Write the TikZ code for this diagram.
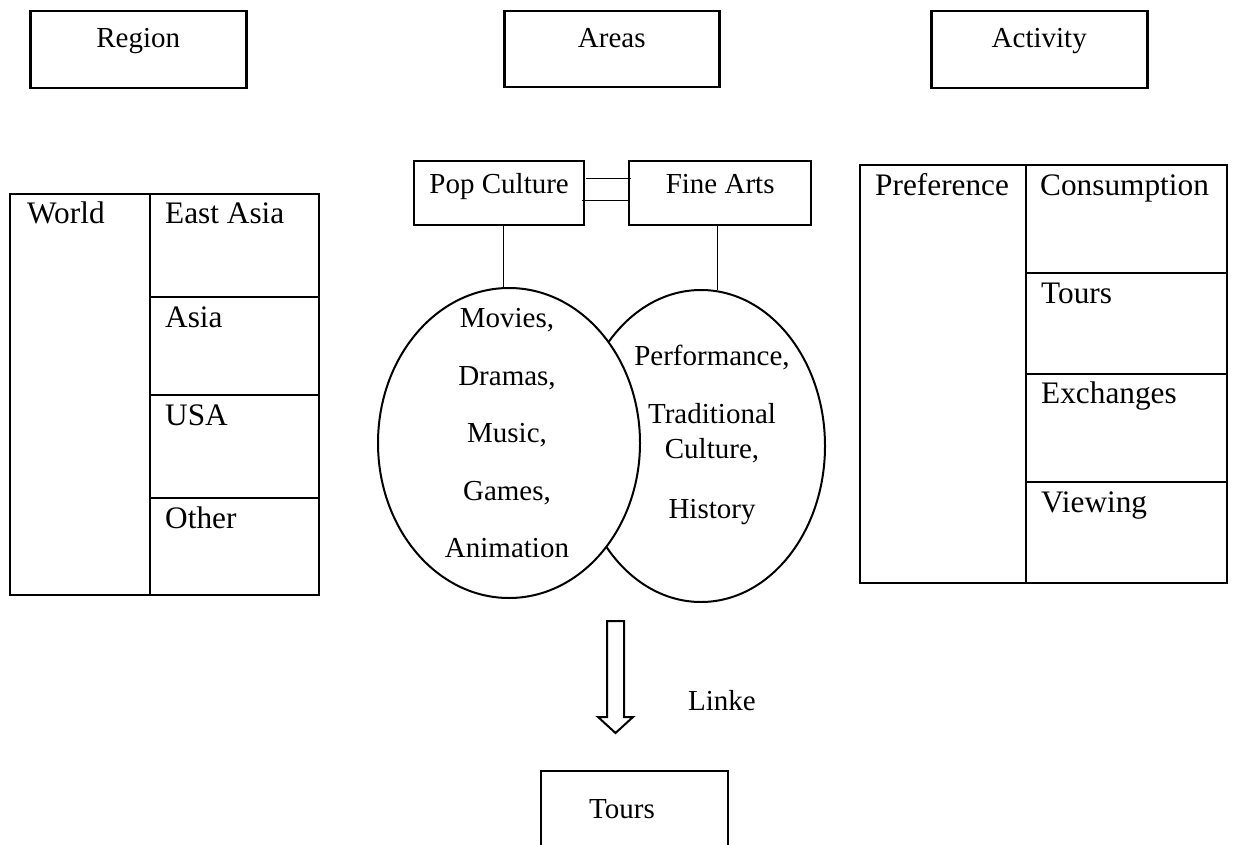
\documentclass[tikz,border=0pt]{standalone}
\usepackage{fontspec}
\setmainfont{Liberation Serif}
\usetikzlibrary{shapes.geometric,calc}
\begin{document}
\begin{tikzpicture}[x=1pt,y=-1pt,
  txt/.style={inner sep=0pt, font=\fontsize{29}{30}\selectfont},
  ttxt/.style={inner sep=0pt, anchor=base west, font=\fontsize{31.3}{32}\selectfont},
  hbox/.style={draw, line width=2.5pt, inner sep=0pt, anchor=north west, font=\fontsize{29}{30}\selectfont},
  venn/.style={draw, ellipse, line width=2pt, inner sep=0pt, fill=white},
  thinline/.style={line width=1pt},
  tbl/.style={line width=2.5pt}]
\useasboundingbox (0,0) rectangle (1233,845);

% header boxes
\node[hbox, minimum width=216, text height=36, text depth=41] (region) at (29,10) {Region};
\node[hbox, minimum width=215, text height=36, text depth=40] (areas) at (503,10) {Areas};
\node[hbox, minimum width=216, text height=36, text depth=41] (activity) at (930,10) {Activity};

% pop culture / fine arts
\node[hbox, line width=2.3pt, minimum width=170, text height=32, text depth=32] (pop) at (413,160) {Pop Culture};
\node[hbox, line width=2.3pt, minimum width=182, text height=32, text depth=32] (fine) at (628,160) {Fine Arts};
\coordinate (h1) at (0,179);
\coordinate (h2) at (0,200);
\draw[thinline] ($(pop.east |- h1)+(1,0)$) -- ($(fine.west |- h1)+(3,0)$);
\draw[thinline] ($(pop.east |- h2)+(-3,0)$) -- (fine.west |- h2);

% Venn ellipses
\node[venn, minimum width=248, minimum height=312] (fa) at (701,446) {};
\node[venn, minimum width=262, minimum height=310] (pc) at (509,443) {};
\draw[thinline] (pc.92 |- pop.south) -- (pc.92);
\draw[thinline] (fa.84 |- fine.south) -- (fa.84);

\node[txt, anchor=base] (m1) at (507,327) {Movies,};
\node[txt, anchor=base] (m2) at (507,385) {Dramas,};
\node[txt, anchor=base] (m3) at (507,442) {Music,};
\node[txt, anchor=base] (m4) at (507,500) {Games,};
\node[txt, anchor=base] (m5) at (507,557) {Animation};

\node[txt, anchor=base] (f1) at (712,365) {Performance,};
\node[txt, anchor=base] (f2) at (712,423) {Traditional};
\node[txt, anchor=base] (f3) at (712,458) {Culture,};
\node[txt, anchor=base] (f4) at (712,518) {History};

% block arrow
\draw[line width=2pt, line join=miter] (607,621) -- (624,621) -- (624,717) -- (633,717)
  -- (615.5,733) -- (598,717) -- (607,717) -- cycle;
\node[txt, anchor=base west] (linke) at (688,710) {Linke};

% Tours box (open at the bottom edge of the picture)
\node[inner sep=0pt, outer sep=0pt, anchor=north west, minimum width=187, minimum height=74] (tours) at (541,771) {};
\draw[line width=2.3pt] (tours.south west) -- (tours.north west) -- (tours.north east) -- (tours.south east);
\node[txt, anchor=base] (tourst) at (622,818) {Tours};

% left table
\draw[tbl] (10,194) rectangle (319,595);
\draw[tbl] (150,194) -- (150,595);
\draw[tbl] (150,297) -- (319,297);
\draw[tbl] (150,395) -- (319,395);
\draw[tbl] (150,498) -- (319,498);
\node[ttxt] (world) at (27,223) {World};
\node[ttxt] (easia) at (165,223) {East Asia};
\node[ttxt] (asia) at (165,327) {Asia};
\node[ttxt] (usa) at (165,425) {USA};
\node[ttxt] (other) at (165,528) {Other};

% right table
\draw[tbl] (860,165) rectangle (1227,583);
\draw[tbl] (1026,165) -- (1026,583);
\draw[tbl] (1026,273) -- (1227,273);
\draw[tbl] (1026,374) -- (1227,374);
\draw[tbl] (1026,482) -- (1227,482);
\node[ttxt] (pref) at (875,195) {Preference};
\node[ttxt] (cons) at (1040,195) {Consumption};
\node[ttxt] (tours2) at (1041,303) {Tours};
\node[ttxt] (exch) at (1041,403) {Exchanges};
\node[ttxt] (view) at (1041,512) {Viewing};
\end{tikzpicture}
\end{document}
